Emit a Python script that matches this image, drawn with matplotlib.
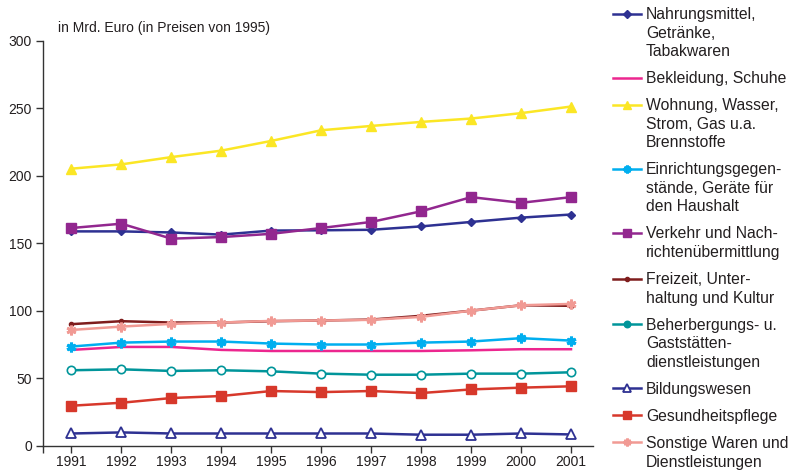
import matplotlib
matplotlib.use("Agg")
import matplotlib.pyplot as plt
from matplotlib.lines import Line2D

plt.rcParams['font.family'] = ['Liberation Sans', 'DejaVu Sans']

years = [1991, 1992, 1993, 1994, 1995, 1996, 1997, 1998, 1999, 2000, 2001]

nahrung = [158.8, 158.8, 158.0, 156.4, 159.4, 159.6, 160.0, 162.5, 165.8, 169.0, 171.3]
bekleidung = [70.9, 73.1, 73.1, 70.9, 70.1, 70.1, 70.1, 70.1, 70.6, 71.4, 71.4]
wohnung = [205.3, 208.5, 213.9, 218.7, 225.9, 233.8, 237.0, 240.0, 242.5, 246.5, 251.4]
einrichtung = [73.4, 76.3, 77.1, 77.1, 75.6, 74.9, 74.9, 76.3, 77.1, 79.6, 77.8]
verkehr = [161.3, 164.5, 153.4, 154.6, 157.0, 161.3, 165.8, 173.7, 184.2, 180.0, 184.2]
freizeit = [90.0, 92.2, 91.2, 91.2, 92.2, 92.7, 93.4, 96.2, 100.0, 104.0, 103.6]
beherbergung = [55.8, 56.5, 55.3, 55.8, 55.0, 53.3, 52.5, 52.5, 53.3, 53.3, 54.3]
bildung = [8.9, 9.7, 8.9, 8.9, 8.9, 8.9, 8.9, 8.0, 8.0, 8.9, 8.2]
gesundheit = [29.5, 31.7, 35.2, 36.7, 40.4, 39.6, 40.4, 38.9, 41.6, 42.9, 43.9]
sonstige = [85.7, 88.2, 90.2, 91.2, 92.4, 92.7, 93.2, 95.4, 100.0, 104.0, 105.0]

labels = [
    "Nahrungsmittel,\nGetränke,\nTabakwaren",
    "Bekleidung, Schuhe",
    "Wohnung, Wasser,\nStrom, Gas u.a.\nBrennstoffe",
    "Einrichtungsgegen-\nstände, Geräte für\nden Haushalt",
    "Verkehr und Nach-\nrichtenübermittlung",
    "Freizeit, Unter-\nhaltung und Kultur",
    "Beherbergungs- u.\nGaststätten-\ndienstleistungen",
    "Bildungswesen",
    "Gesundheitspflege",
    "Sonstige Waren und\nDienstleistungen",
]
yticks = [0, 50, 100, 150, 200, 250, 300]
title = "in Mrd. Euro (in Preisen von 1995)"

series = [nahrung, bekleidung, wohnung, einrichtung, verkehr, freizeit,
          beherbergung, bildung, gesundheit, sonstige]

asterisk = (6, 2, 0)
styles = [
    dict(color='#2e3192', marker='D', ms=4.5, mfc='#2e3192', mec='#2e3192', mew=1),
    dict(color='#ec268f', marker=None),
    dict(color='#fbe625', marker='^', ms=7, mfc='#fbe625', mec='#fbe625', mew=1),
    dict(color='#00aeef', marker=asterisk, ms=7, mfc='#00aeef', mec='#00aeef', mew=2.2),
    dict(color='#92278f', marker='s', ms=6.5, mfc='#92278f', mec='#92278f', mew=1),
    dict(color='#7f1d1d', marker='o', ms=3, mfc='#7f1d1d', mec='#7f1d1d', mew=1),
    dict(color='#00959a', marker='o', ms=6, mfc='white', mec='#00959a', mew=1.2),
    dict(color='#2e3192', marker='^', ms=6.5, mfc='white', mec='#2e3192', mew=1.3),
    dict(color='#d7382b', marker='s', ms=6.5, mfc='#d7382b', mec='#d7382b', mew=1),
    dict(color='#f19a94', marker=asterisk, ms=7, mfc='#f19a94', mec='#f19a94', mew=2.0),
]
zorders = [3, 3, 3, 4, 4, 3, 3, 3, 3, 4]

W, H = 791, 471
fig = plt.figure(figsize=(W / 100, H / 100), dpi=100)
x_left, x_right = 42.5, 593
y_bottom, y_top = 445.5, 41
ax = fig.add_axes([x_left / W, (H - y_bottom) / H, (x_right - x_left) / W, (y_bottom - y_top) / H])

txtc = '#231f20'
for vals, st, z in zip(series, styles, zorders):
    ax.plot(years, vals, lw=1.8, zorder=z, clip_on=False, **st)

ax.set_ylim(0, 300)
ax.set_xlim(1990.42, 2001.44)
ax.set_yticks(yticks)
ax.set_xticks(years)
ax.set_xticks([1990.42], minor=True)
ax.spines['top'].set_visible(False)
ax.spines['right'].set_visible(False)
for s in ['left', 'bottom']:
    ax.spines[s].set_color('#333333')
    ax.spines[s].set_linewidth(1.0)
ax.tick_params(axis='both', which='both', direction='out', length=5, width=1.0,
               color='#333333', labelsize=10, labelcolor=txtc)
ax.tick_params(axis='y', pad=2.5)
ax.tick_params(axis='x', pad=2)

fig.text(58 / W, 1 - 28 / H, title, fontsize=10, color=txtc, ha='left', va='center')

# legend drawn in figure pixel coordinates
lax = fig.add_axes([0, 0, 1, 1], facecolor='none')
lax.set_xlim(0, W)
lax.set_ylim(H, 0)
lax.axis('off')
y = 13.5
line_h = 18.5
gap = 8.6
for idx, (lab, st) in enumerate(zip(labels, styles)):
    lst = dict(st)
    lax.add_line(Line2D([613, 641], [y, y], lw=1.8, color=lst['color']))
    if lst.get('marker') is not None:
        ms = lst['ms'] * 0.8 if lst['ms'] > 4 else lst['ms']
        mfc = lst['mfc']
        if idx == 6:
            mfc = lst['mec']
            ms = 4.5
        lax.add_line(Line2D([627], [y], lw=0, marker=lst['marker'], ms=ms,
                            mfc=mfc, mec=lst['mec'], mew=lst['mew']))
    lines = lab.split('\n')
    for i, ln in enumerate(lines):
        lax.text(646, y + i * line_h + 5.6, ln, fontsize=11.3, color=txtc,
                 ha='left', va='baseline')
    y += len(lines) * line_h + gap

fig.savefig('out.png', dpi=100)
